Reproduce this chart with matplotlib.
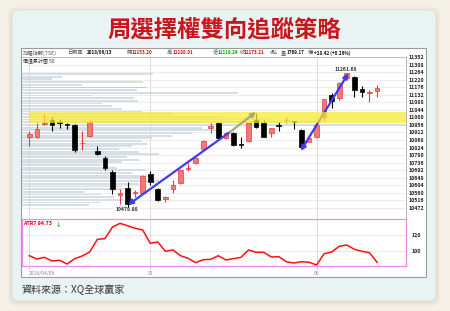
import matplotlib
matplotlib.use("Agg")
import matplotlib.pyplot as plt
from matplotlib.patches import FancyBboxPatch, Rectangle

plt.rcParams['font.family'] = ['Noto Sans CJK TC', 'DejaVu Sans']

# ---------------------------------------------------------------
# DATA  (TAIEX daily, 2018/04/09 - 2018/06/13)
# ---------------------------------------------------------------
TITLE = "周選擇權雙向追蹤策略"
SOURCE = "資料來源：XQ全球贏家"

opens = [10887, 10884, 10960, 10985, 10972, 10962, 10956, 10848, 10891, 10806,
         10761, 10683, 10546, 10585, 10558, 10556, 10669, 10581, 10521, 10581,
         10615, 10697, 10735, 10814, 10937, 10966, 10878, 10911, 10845, 10864,
         10985, 10966, 10911, 10952, 10983, 10977, 10927, 10858, 10884, 11003,
         11131, 11112, 11229, 11238, 11166, 11143, 11153.20]
highs = [10922, 10966, 11018, 11004, 10989, 10966, 10960, 10921, 10985, 10833,
         10775, 10693, 10580, 10624, 10576, 10665, 10687, 10587, 10540, 10634,
         10698, 10732, 10768, 10870, 10966, 10975, 10912, 10917, 10887, 10969,
         11028, 10985, 10937, 10975, 11001, 10981, 10930, 10887, 10966, 11110,
         11141, 11205, 11261.68, 11240, 11184, 11161, 11188.01]
lows = [10833, 10878, 10956, 10922, 10937, 10931, 10800, 10810, 10887, 10780,
        10693, 10552, 10494, 10478.98, 10533, 10550, 10605, 10513, 10507, 10556,
        10610, 10688, 10730, 10810, 10911, 10872, 10872, 10833, 10820, 10858,
        10937, 10887, 10887, 10922, 10966, 10931, 10820, 10855, 10878, 10979,
        11054, 11105, 11225, 11121, 11118, 11089, 11119.24]
closes = [10901, 10931, 10969, 10956, 10966, 10958, 10810, 10853, 10975, 10785,
          10702, 10581, 10560, 10494, 10561, 10659, 10624, 10517, 10533, 10605,
          10693, 10706, 10765, 10864, 10950, 10878, 10907, 10839, 10841, 10966,
          10942, 10887, 10937, 10948, 10986, 10974, 10825, 10878, 10956, 11106,
          11098, 11200, 11258, 11161, 11147, 11146, 11173.21]

atr7 = [94.1, 90.0, 92.1, 87.5, 88.4, 83.8, 90.4, 93.8, 98.8, 114.6,
        115.4, 130.0, 134.6, 131.6, 128.4, 126.3, 109.6, 111.3, 99.6, 101.3,
        94.1, 90.9, 85.4, 89.1, 89.6, 94.1, 88.8, 90.4, 92.1, 101.3,
        98.4, 98.4, 92.5, 92.9, 86.6, 85.0, 86.6, 85.9, 82.5, 96.6,
        98.8, 105.9, 107.5, 102.1, 99.6, 97.9, 85.9]
ATR_LABEL = "ATR7 94.73"

# cumulative volume-at-price, 50 rows, top row first
profile_vol = [131, 40, 30, 121, 60, 124, 115, 216, 70, 112,
               116, 80, 90, 100, 120, 150, 200, 250, 300, 384,
               180, 200, 170, 150, 130, 120, 125, 110, 97, 117,
               137, 105, 117, 100, 80, 95, 123, 110, 130, 120,
               137, 117, 100, 102, 63, 80, 92, 102, 80, 67]
profile_hilite = 5
volume_total = "1769.17"
change_text = "+28.42 (+0.26%)"

band_lo, band_hi = 10969, 11030
price_ticks = list(range(10472, 11353, 44))
atr_ticks = [100, 120]
month_ticks = [0, 16, 38]
month_labels = ["2018/04/09", "05", "06"]

# arrows (day index, price)
arrow_down = ((26.55, 10915), (13.05, 10488))
arrow_up = ((26.55, 10915), (29.99, 11032))
arrow_both = ((35.9, 10804), (42.2, 11258))

# ---------------------------------------------------------------
# LAYOUT
# ---------------------------------------------------------------
W, H = 450, 311
X_LIM = (-0.966, 49.83)
P_LIM = (10407.6, 11356.7)


def px_rect(x0, y0, x1, y1):
    return [x0 / W, 1 - y1 / H, (x1 - x0) / W, (y1 - y0) / H]


fig = plt.figure(figsize=(4.5, 3.11), dpi=100)
fig.patch.set_facecolor('#f4f0e6')

bg = fig.add_axes([0, 0, 1, 1])
bg.set_xlim(0, W)
bg.set_ylim(H, 0)
bg.axis('off')

for pad, a in [(5, 0.04), (3, 0.06), (1.5, 0.08)]:
    bg.add_patch(FancyBboxPatch((12 - pad + 1, 10 - pad + 2), 424 + 2 * pad - 2, 291 + 2 * pad - 2,
                                boxstyle='round,pad=0,rounding_size=9', fc='#7a6a50', alpha=a, ec='none'))
bg.add_patch(FancyBboxPatch((12, 10), 424, 291, boxstyle='round,pad=0,rounding_size=7',
                            fc='#e9f3f3', ec='#d5e0e0', lw=0.5))
bg.add_patch(Rectangle((21, 48), 405, 229, fc='white', ec='#9c9c9c', lw=0.8))

bg.text(224, 30, TITLE, ha='center', va='center', fontsize=16.8, fontweight='bold', color='#c8161d')
bg.text(22, 289.5, SOURCE, ha='left', va='center', fontsize=7.2, color='#333333')

# header row: (x px, text, colour, is number)
header = [
    (23, "加權指數(TSE)", '#555555', False), (67, "日期區", '#555555', False),
    (86.5, "2018/06/13", '#111111', True),
    (127, "開", '#555555', False), (131.5, f"{opens[-1]:.2f}", '#e00000', True),
    (167, "高", '#555555', False), (173, f"{highs[-1]:.2f}", '#e00000', True),
    (213, "低", '#555555', False), (218, f"{lows[-1]:.2f}", '#009a00', True),
    (239.5, "收", '#555555', False), (244, f"{closes[-1]:.2f}", '#e00000', True),
    (269.5, "s點", '#555555', False), (281, "量", '#555555', False),
    (287, volume_total, '#111111', True),
    (307.5, "億", '#555555', False), (314, change_text, '#111111', True),
]
for x, s, c, num in header:
    bg.text(x, 52.8, s, ha='left', va='center', fontsize=3.3 if num else 3.8, color=c,
            fontweight='bold' if num else 'normal')
bg.text(23, 60.5, "價量累計圖 50", ha='left', va='center', fontsize=3.6, color='#333333')

# ---------------------------------------------------------------
# VOLUME PROFILE (behind candles)
# ---------------------------------------------------------------
vax = fig.add_axes(px_rect(22, 56.5, 406, 218.7))
vax.set_facecolor('none')
vax.set_xlim(0, 384)
vax.set_ylim(*P_LIM)
vax.axis('off')
prof_hi, prof_lo = max(highs), min(lows)
bin_h = (prof_hi - prof_lo) / len(profile_vol)
centers = [prof_hi - bin_h * (i + 0.5) for i in range(len(profile_vol))]
colors = ['#d6d86a' if i == profile_hilite else '#d6dee6' for i in range(len(profile_vol))]
for p in price_ticks:
    vax.axhline(p, color='#e6e6e6', lw=0.5, zorder=0)
vax.barh(centers, profile_vol, height=bin_h * 0.7, left=0, color=colors, zorder=1)

# ---------------------------------------------------------------
# PRICE PANE
# ---------------------------------------------------------------
ax = fig.add_axes(px_rect(22, 56.5, 406, 218.7))
ax.set_facecolor('none')
ax.set_xlim(*X_LIM)
ax.set_ylim(*P_LIM)
for m in month_ticks:
    ax.axvline(m, color='#d4d4d4', lw=0.6, zorder=1)

for i, (o, h, l, c) in enumerate(zip(opens, highs, lows, closes)):
    up = c >= o
    edge = '#e83a3a' if up else 'black'
    face = '#f27878' if up else 'black'
    ax.vlines(i, l, h, color=edge, lw=0.8, zorder=3)
    body = max(abs(c - o), 5)
    ax.bar(i, body, bottom=min(o, c), width=0.62, color=face, edgecolor=edge, lw=0.5, zorder=4)

blue = '#3c3cf0'
ax.annotate('', xy=arrow_down[1], xytext=arrow_down[0], zorder=5,
            arrowprops=dict(arrowstyle='-|>', color=blue, lw=1.6, mutation_scale=7, shrinkA=0, shrinkB=0))
ax.annotate('', xy=arrow_both[1], xytext=arrow_both[0], zorder=5,
            arrowprops=dict(arrowstyle='<|-|>', color=blue, lw=1.6, mutation_scale=7, shrinkA=0, shrinkB=0))
ax.axhspan(band_lo, band_hi, xmin=0.019, xmax=1, color='#f8eb30', alpha=0.72, lw=0, zorder=6)
ax.annotate('', xy=arrow_up[1], xytext=arrow_up[0], zorder=7,
            arrowprops=dict(arrowstyle='-|>', color='#b0a872', lw=1.6, mutation_scale=7, shrinkA=0, shrinkB=0))

i_lo = lows.index(min(lows))
i_hi = highs.index(max(highs))
ax.text(i_lo - 0.15, min(lows) - 17, f"{min(lows):.2f}", ha='center', va='center',
        fontsize=3.6, fontweight='bold', color='#333333', zorder=8)
ax.text(i_hi - 0.1, max(highs) + 17, f"{max(highs):.2f}", ha='center', va='center',
        fontsize=3.6, fontweight='bold', color='#333333', zorder=8)

ax.yaxis.tick_right()
ax.set_yticks(price_ticks)
ax.set_yticklabels([str(p) for p in price_ticks], fontweight='bold')
ax.tick_params(axis='y', length=0, pad=2, labelsize=3.8, labelcolor='#222222')
ax.set_xticks([])
for s in ['left', 'bottom']:
    ax.spines[s].set_visible(False)
ax.spines['top'].set_color('#b4b4b4')
ax.spines['top'].set_linewidth(0.6)
ax.spines['right'].set_color('#a8a8a8')
ax.spines['right'].set_linewidth(0.6)

# ---------------------------------------------------------------
# ATR PANE
# ---------------------------------------------------------------
ax2 = fig.add_axes(px_rect(22, 219, 406, 266))
ax2.set_facecolor('white')
ax2.set_xlim(*X_LIM)
ax2.set_ylim(81.25, 140)
for t in atr_ticks:
    ax2.axhline(t, color='#dedede', lw=0.5, zorder=0)
for m in month_ticks:
    ax2.axvline(m, color='#d4d4d4', lw=0.6, zorder=0)
ax2.plot(range(len(atr7)), atr7, color='#ff1010', lw=1.1, zorder=3)
ax2.yaxis.tick_right()
ax2.set_yticks(atr_ticks)
ax2.set_yticklabels([str(t) for t in atr_ticks], fontweight='bold')
ax2.tick_params(axis='y', length=0, pad=4, labelsize=3.8, labelcolor='#222222')
ax2.set_xticks(month_ticks)
ax2.set_xticklabels(month_labels)
ax2.tick_params(axis='x', length=2, width=0.5, color='#aaaaaa', pad=1.5, labelsize=3.6, labelcolor='#888888')
ax2.get_xticklabels()[0].set_ha('left')
for s in ax2.spines.values():
    s.set_color('#f08cf0')
    s.set_linewidth(0.9)

fig.text(23 / W, 1 - 223.5 / H, ATR_LABEL, ha='left', va='center', fontsize=3.8,
         fontweight='bold', color='#e00000')
fig.text(55.5 / W, 1 - 223.5 / H, "↓", ha='left', va='center', fontsize=3.8,
         fontweight='bold', color='#00a000')

fig.savefig("out.png", dpi=100, facecolor=fig.get_facecolor())
